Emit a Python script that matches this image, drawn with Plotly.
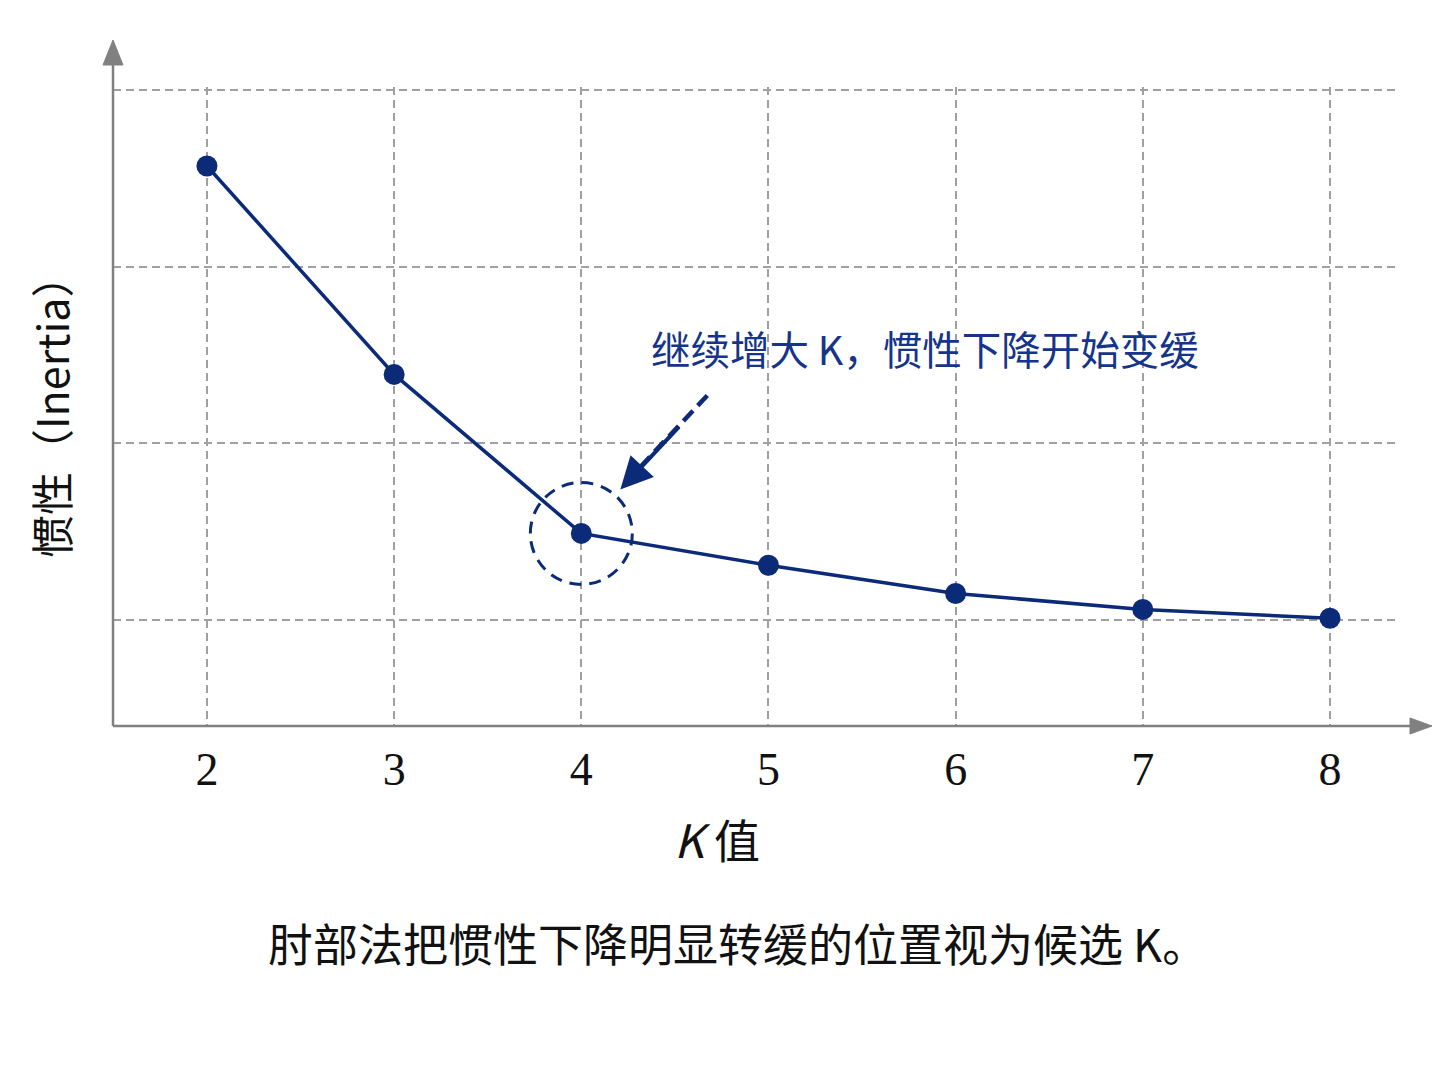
import plotly.graph_objects as go

k_values = [2, 3, 4, 5, 6, 7, 8]
inertia = [357, 239, 149, 131, 115, 106, 101]
y_grid = [100, 200, 300, 400]

navy = "#0b2a78"
grey = "#808080"

# plot area in page pixels (left 113, right 1400, top 87, bottom 726)
W, H = 1287, 639


def px(x):
    return (x - 113) / W


def py(y):
    return (726 - y) / H


fig = go.Figure()

fig.add_trace(go.Scatter(
    x=k_values, y=inertia,
    mode="lines+markers",
    line=dict(color=navy, width=3.5),
    marker=dict(color=navy, size=21),
    showlegend=False,
    hoverinfo="skip",
))

# dashed circle around the elbow point (k = 4)
fig.add_shape(type="circle", xref="x", yref="y",
              xsizemode="pixel", ysizemode="pixel",
              xanchor=k_values[2], yanchor=inertia[2],
              x0=-51, x1=51, y0=-51, y1=51,
              line=dict(color=navy, width=3, dash="12px,8px"))

# dashed arrow shaft pointing to the circle
fig.add_shape(type="line", xref="x", yref="y",
              xsizemode="pixel", ysizemode="pixel",
              xanchor=k_values[2], yanchor=inertia[2],
              x0=126, y0=138, x1=52, y1=59,
              line=dict(color=navy, width=4.5, dash="14px,7px"))

# axes lines with arrow heads
fig.add_shape(type="line", xref="paper", yref="paper",
              x0=0, y0=0, x1=0, y1=py(62), line=dict(color=grey, width=2.5))
fig.add_shape(type="path", xref="paper", yref="paper",
              path=f"M {px(103)},{py(65)} L {px(123)},{py(65)} L 0,{py(40)} Z",
              fillcolor=grey, line=dict(color=grey, width=1))
fig.add_shape(type="line", xref="paper", yref="paper",
              x0=0, y0=0, x1=px(1414), y1=0, line=dict(color=grey, width=2.5))
fig.add_shape(type="path", xref="paper", yref="paper",
              path=f"M {px(1410)},{py(718)} L {px(1410)},{py(734)} L {px(1432)},0 Z",
              fillcolor=grey, line=dict(color=grey, width=1))

# arrow head
fig.add_annotation(x=k_values[2], y=inertia[2], xref="x", yref="y",
                   text="", showarrow=True, ax=60, ay=-64,
                   arrowhead=2, arrowsize=1.6, arrowwidth=4, arrowcolor=navy,
                   standoff=0, xshift=39, yshift=44)

fig.add_annotation(x=px(925), y=py(347), xref="paper", yref="paper",
                   xanchor="center", yanchor="middle",
                   text="继续增大 K，惯性下降开始变缓", showarrow=False,
                   font=dict(family="Noto Sans CJK SC", size=39.5, color="#15348a"))

fig.add_annotation(x=px(717), y=py(838), xref="paper", yref="paper",
                   xanchor="center", yanchor="middle",
                   text="<i>K</i> 值", showarrow=False,
                   font=dict(family="Noto Sans CJK SC", size=46, color="#111111"))

fig.add_annotation(x=px(50), y=py(406), xref="paper", yref="paper",
                   xanchor="center", yanchor="middle",
                   text="惯性（Inertia）", showarrow=False, textangle=-90,
                   font=dict(family="Noto Sans CJK SC", size=43, color="#111111"))

fig.add_annotation(x=px(737), y=py(942), xref="paper", yref="paper",
                   xanchor="center", yanchor="middle",
                   text="肘部法把惯性下降明显转缓的位置视为候选 K。", showarrow=False,
                   font=dict(family="Noto Sans CJK SC", size=45, color="#111111"))

fig.update_xaxes(range=[1.498, 8.374], tickvals=k_values,
                 showgrid=True, gridcolor="#a0a0a0", griddash="8px,5px", gridwidth=1.5,
                 zeroline=False, showline=False, ticks="", ticklabelstandoff=12,
                 tickfont=dict(family="Liberation Serif", size=46, color="#111111"))
fig.update_yaxes(range=[40, 401.7], tickvals=y_grid, showticklabels=False,
                 showgrid=True, gridcolor="#a0a0a0", griddash="8px,5px", gridwidth=1.5,
                 zeroline=False, showline=False, ticks="")

fig.update_layout(width=1440, height=1078,
                  margin=dict(l=105, r=48, t=79, b=360),
                  plot_bgcolor="white", paper_bgcolor="white")

fig.write_html("out.html")
